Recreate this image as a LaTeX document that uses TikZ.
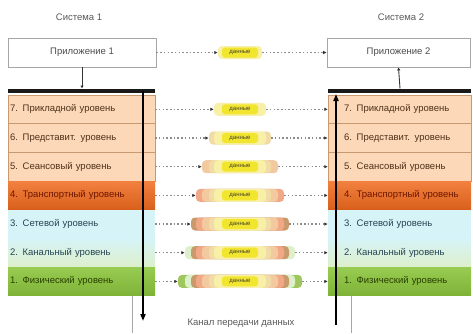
\documentclass[tikz,border=0pt]{standalone}
\usepackage{fontspec}
\setmainfont{Liberation Sans}
\usetikzlibrary{arrows.meta}
\definecolor{peach}{HTML}{FCD7B8}
\definecolor{peachline}{HTML}{C99A72}
\definecolor{orangeL}{HTML}{F06A1E}
\definecolor{cyanL}{HTML}{D6F4F8}
\definecolor{greenL}{HTML}{8CC63E}
\definecolor{txtbrown}{HTML}{4E3219}
\definecolor{txtred}{HTML}{6E1600}
\definecolor{txtteal}{HTML}{264450}
\definecolor{txtgreen}{HTML}{284000}
\definecolor{dataY}{HTML}{F2E52E}
\definecolor{band7}{HTML}{F7F0A6}
\definecolor{band6}{HTML}{F1DCA8}
\definecolor{band5}{HTML}{F3C9A0}
\definecolor{band4}{HTML}{F2A887}
\definecolor{band3}{HTML}{C99A6C}
\definecolor{band2}{HTML}{DDEFCB}
\definecolor{band1}{HTML}{9FC75E}
\def\hwlist{{0,62,55,49,44,38,31,26}}
\begin{document}
\begin{tikzpicture}[x=1pt,y=-1pt,
  every node/.style={font=\fontsize{9.5}{11}\selectfont},
  title/.style={text=black!65},
  appbox/.style={draw=black!35, line width=0.8pt, minimum height=29pt, text=black!70},
  llayer/.style={minimum height=28.7pt, inner xsep=2pt, text width=143pt, align=left, inner ysep=0pt},
  rlayer/.style={minimum height=28.7pt, inner xsep=0pt, text width=143pt, align=left, inner ysep=0pt},
  band/.style={rounded corners=4pt, minimum height=13pt, inner sep=0pt, draw=none},
  datacore/.style={fill=dataY, rounded corners=3pt, minimum width=36pt, minimum height=10pt, inner sep=0pt, text=black!70!olive, font=\fontsize{6}{7}\selectfont},
  dotline/.style={draw=black!45, line width=1.1pt, dash pattern=on 1.5pt off 2.2pt, -{Latex[length=3.5pt,width=3.5pt,color=black!80]}},
  bigarrow/.style={line width=2pt, draw=black, -{Triangle[length=7pt,width=5pt]}},
  smallarrow/.style={line width=0.9pt, draw=black!80, -{Latex[length=3pt,width=3.5pt]}},
  bar/.style={line width=4.5pt, draw=black!90},
  chan/.style={line width=1pt, draw=black!35}
]
\useasboundingbox[fill=white] (0,0) rectangle (473,333);

% titles
\node[title] (s1) at (79,17) {Система 1};
\node[title] (s2) at (401,17) {Система 2};

% applications
\node[appbox, minimum width=148pt] (app1) at (82,52.5) {Приложение 1};
\node[appbox, minimum width=143pt] (app2) at (398.5,52.5) {Приложение 2};

% top data capsule
\node[band, fill=band7, minimum width=44pt] (c8) at (240,52.5) {};
\node[datacore] at (240,52.5) {данные};

% bars
\coordinate (b1l) at (8,91);
\coordinate (b1r) at (155,91);
\coordinate (b2l) at (328,91);
\coordinate (b2r) at (471,91);
\draw[bar] (b1l) -- (b1r);
\draw[bar] (b2l) -- (b2r);
\coordinate (t1) at (82,88.5);
\coordinate (t2) at (400,88.5);

% left stack
\node[llayer, fill=peach, draw=peachline, line width=0.5pt, text=txtbrown] (L7) at (81.5,109.3) {7. Прикладной уровень};
\node[llayer, fill=peach, draw=peachline, line width=0.5pt, text=txtbrown] (L6) at (81.5,138) {6. Представит. уровень};
\node[llayer, fill=peach, draw=peachline, line width=0.5pt, text=txtbrown] (L5) at (81.5,166.7) {5. Сеансовый уровень};
\node[llayer, top color=orangeL!85!white, bottom color=orangeL!90!black, text=txtred] (L4) at (81.5,195.4) {4. Транспортный уровень};
\node[llayer, fill=cyanL, text=txtteal] (L3) at (81.5,224) {3. Сетевой уровень};
\node[llayer, top color=cyanL, bottom color=band2, text=txtteal] (L2) at (81.5,252.7) {2. Канальный уровень};
\node[llayer, top color=greenL!90!white, bottom color=greenL!90!black, text=txtgreen] (L1) at (81.5,281.4) {1. Физический уровень};

% right stack
\node[rlayer, fill=peach, draw=peachline, line width=0.5pt, text=txtbrown] (R7) at (399.5,109.3) {\hspace*{16pt}7. Прикладной уровень};
\node[rlayer, fill=peach, draw=peachline, line width=0.5pt, text=txtbrown] (R6) at (399.5,138) {\hspace*{16pt}6. Представит. уровень};
\node[rlayer, fill=peach, draw=peachline, line width=0.5pt, text=txtbrown] (R5) at (399.5,166.7) {\hspace*{16pt}5. Сеансовый уровень};
\node[rlayer, top color=orangeL!85!white, bottom color=orangeL!90!black, text=txtred] (R4) at (399.5,195.4) {\hspace*{16pt}4. Транспортный уровень};
\node[rlayer, fill=cyanL, text=txtteal] (R3) at (399.5,224) {\hspace*{16pt}3. Сетевой уровень};
\node[rlayer, top color=cyanL, bottom color=band2, text=txtteal] (R2) at (399.5,252.7) {\hspace*{16pt}2. Канальный уровень};
\node[rlayer, top color=greenL!90!white, bottom color=greenL!90!black, text=txtgreen] (R1) at (399.5,281.4) {\hspace*{16pt}1. Физический уровень};

% capsules
\foreach \k/\yc in {7/109.3,6/138,5/166.7,4/195.4,3/224,2/252.7,1/281.4} {
  \foreach \j in {\k,...,7} {
    \pgfmathsetmacro\w{2*\hwlist[\j]}
    \node[band, fill=band\j, minimum width=\w pt] at (240,\yc) {};
  }
  \node[datacore] at (240,\yc) {данные};
  \pgfmathsetmacro\ow{2*\hwlist[\k]}
  \node[band, minimum width=\ow pt] (c\k) at (240,\yc) {};
}

% dotted connectors
\draw[dotline] (app1.east) -- (c8.west);
\draw[dotline] (c8.east) -- (app2.west);
\foreach \k in {7,...,1} {
  \draw[dotline] (L\k.east) -- (c\k.west);
  \draw[dotline] (c\k.east) -- (R\k.west);
}

% app arrows
\draw[smallarrow] (app1.south) -- (t1);
\draw[smallarrow] (t2) -- (app2.south);

% big arrows
\coordinate (a1s) at (143,91);
\coordinate (a1e) at (143,321);
\coordinate (a2s) at (336,325);
\coordinate (a2e) at (336,94);
\draw[bigarrow] (a1s) -- (a1e);
\draw[bigarrow] (a2s) -- (a2e);

% channel lines
\coordinate (ch1a) at (132,296);
\coordinate (ch1b) at (132,333);
\coordinate (ch2a) at (351,296);
\coordinate (ch2b) at (351,333);
\draw[chan] (ch1a) -- (ch1b);
\draw[chan] (ch2a) -- (ch2b);

\node[text=black!65] (chan) at (241,323) {Канал передачи данных};
\end{tikzpicture}
\end{document}
